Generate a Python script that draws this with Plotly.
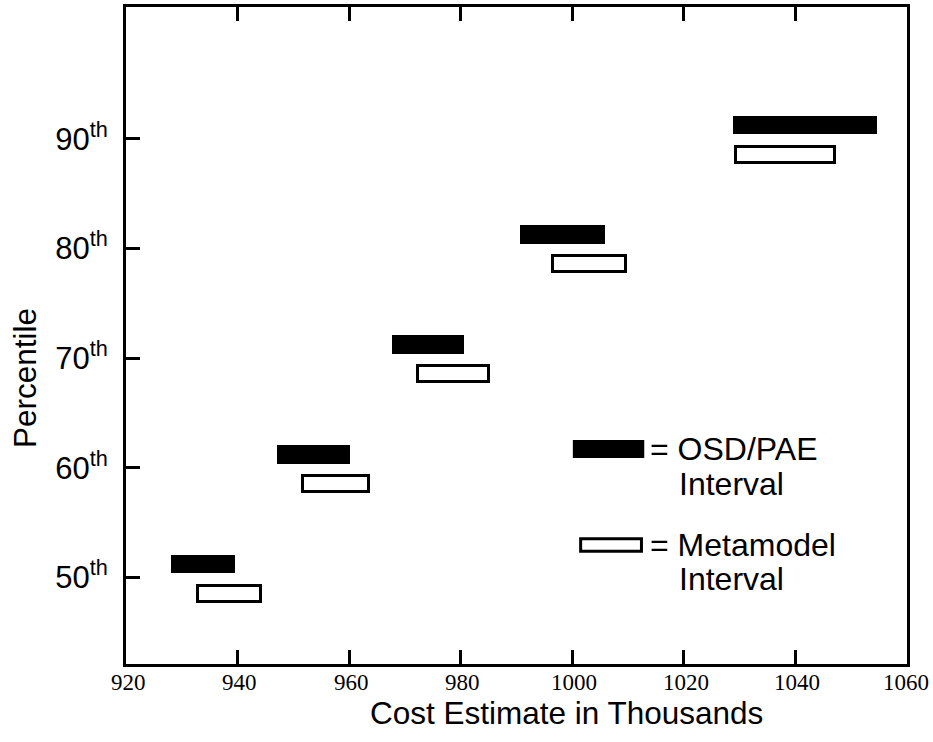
import plotly.graph_objects as go

# Data
percentiles = [50, 60, 70, 80, 90]
tick_text = ["50<sup>th</sup>", "60<sup>th</sup>", "70<sup>th</sup>", "80<sup>th</sup>", "90<sup>th</sup>"]
osd_low = [928.0, 947.1, 967.7, 990.6, 1028.8]
osd_high = [939.5, 960.1, 980.6, 1005.9, 1054.7]
meta_low = [932.9, 951.8, 972.3, 996.6, 1029.4]
meta_high = [944.2, 963.5, 985.1, 1009.7, 1047.1]
x_ticks = [920, 940, 960, 980, 1000, 1020, 1040, 1060]

fig = go.Figure()

fig.add_trace(go.Bar(
    orientation="h",
    y=percentiles,
    base=osd_low,
    x=[h - l for l, h in zip(osd_low, osd_high)],
    width=1.7,
    offset=0.4,
    marker=dict(color="black", line=dict(width=0)),
    name="OSD/PAE Interval",
    showlegend=False,
))

fig.add_trace(go.Bar(
    orientation="h",
    y=percentiles,
    base=meta_low,
    x=[h - l for l, h in zip(meta_low, meta_high)],
    width=1.45,
    offset=-2.175,
    marker=dict(color="white", line=dict(width=3, color="black")),
    name="Metamodel Interval",
    showlegend=False,
))

# Legend keys (drawn manually)
fig.add_shape(type="rect", xref="x", yref="y", x0=1000.1, x1=1012.9, y0=60.9, y1=62.55,
              fillcolor="black", line=dict(width=0))
fig.add_shape(type="rect", xref="x", yref="y", x0=1001.5, x1=1012.4, y0=52.4, y1=53.55,
              fillcolor="white", line=dict(width=3, color="black"))

sans = "Liberation Sans, Arial, Helvetica, sans-serif"
lfont = dict(family=sans, size=32, color="black")
fig.add_annotation(x=1013.6, y=61.75, xref="x", yref="y", text="= OSD/PAE",
                   showarrow=False, xanchor="left", yanchor="middle", font=lfont)
fig.add_annotation(x=1018.8, y=58.55, xref="x", yref="y", text="Interval",
                   showarrow=False, xanchor="left", yanchor="middle", font=lfont)
fig.add_annotation(x=1013.6, y=52.95, xref="x", yref="y", text="= Metamodel",
                   showarrow=False, xanchor="left", yanchor="middle", font=lfont)
fig.add_annotation(x=1018.8, y=49.85, xref="x", yref="y", text="Interval",
                   showarrow=False, xanchor="left", yanchor="middle", font=lfont)

# X tick labels (serif, as in the reference)
serif = "Liberation Serif, Times New Roman, serif"
for v in x_ticks:
    fig.add_annotation(x=v, y=-0.0275, xref="x", yref="paper", text=str(v),
                       showarrow=False, xanchor="center", yanchor="middle",
                       xshift=2 if v < 1060 else -1,
                       font=dict(family=serif, size=23, color="black"))

# Axis titles
tfont = dict(family=sans, size=31.5, color="black")
fig.add_annotation(x=0.5634, y=-0.0745, xref="paper", yref="paper",
                   text="Cost Estimate in Thousands", showarrow=False,
                   xanchor="center", yanchor="middle", font=tfont)
fig.add_annotation(x=-0.1293, y=0.4353, xref="paper", yref="paper",
                   text="Percentile", showarrow=False, textangle=-90,
                   xanchor="center", yanchor="middle", font=tfont)

fig.update_layout(
    width=933, height=742,
    margin=dict(l=126, r=26, t=7, b=78),
    paper_bgcolor="white", plot_bgcolor="white",
    barmode="overlay",
    bargap=0,
    showlegend=False,
)

fig.update_xaxes(
    range=[920, 1060],
    tickvals=x_ticks,
    showticklabels=False,
    ticks="inside", ticklen=14, tickwidth=3, tickcolor="black",
    showline=True, linewidth=3, linecolor="black", mirror="ticks",
    showgrid=False, zeroline=False,
    automargin=False,
)

fig.update_yaxes(
    range=[42.13, 102.0],
    tickvals=percentiles,
    ticktext=tick_text,
    ticks="inside", ticklen=14, tickwidth=3, tickcolor="black",
    showline=True, linewidth=3, linecolor="black", mirror=True,
    showgrid=False, zeroline=False,
    ticklabelstandoff=9,
    automargin=False,
    tickfont=dict(family=sans, size=31, color="black"),
)

fig.write_html("out.html")
